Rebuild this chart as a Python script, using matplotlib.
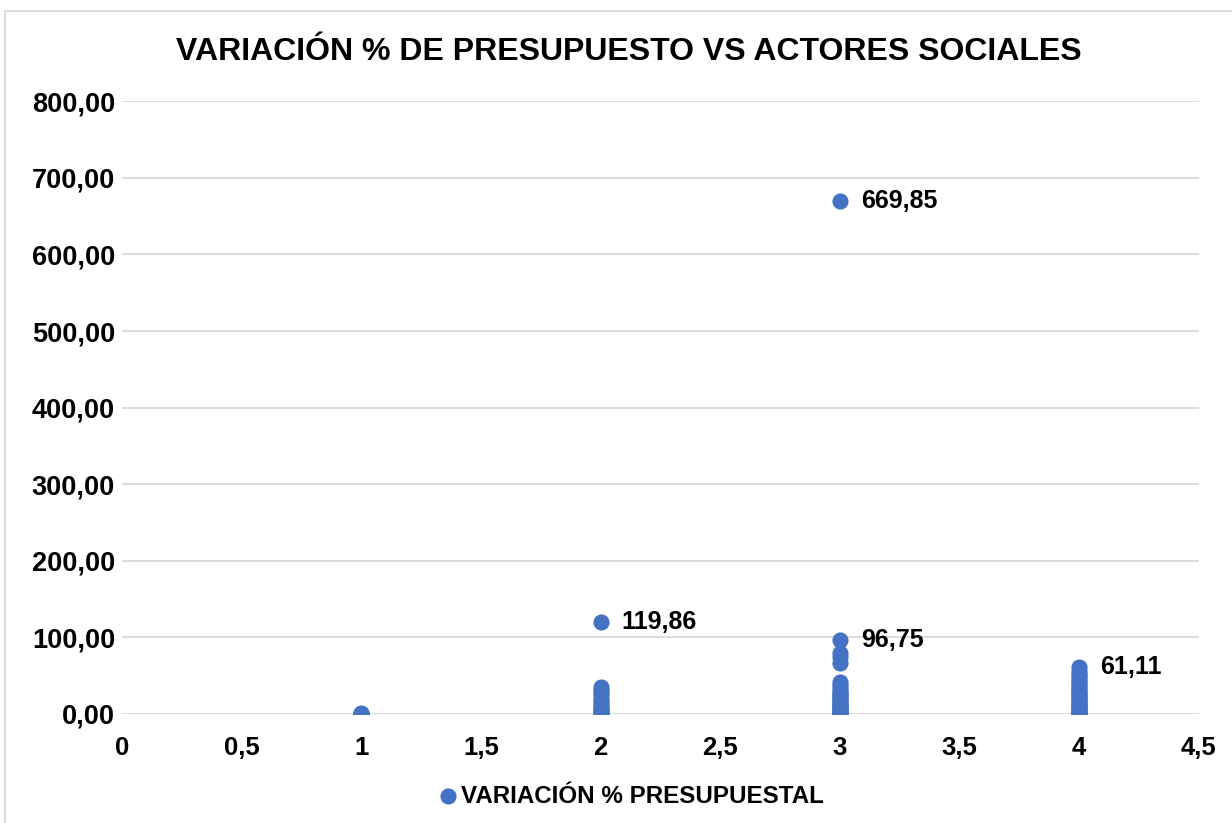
import matplotlib.pyplot as plt
from matplotlib.patches import Rectangle

plt.rcParams['font.family'] = ['Liberation Sans', 'DejaVu Sans']

# actores sociales (x) vs variacion % presupuestal (y)
grupo1 = [0.0, 0.1, 0.3, 0.5, 0.8]
grupo2 = [119.86, 35.2, 31.0, 28.5, 24.1, 20.0, 16.3, 12.7, 9.8, 7.1, 5.0, 3.2, 1.5, 0.4]
grupo3 = [669.85, 96.75, 79.6, 74.0, 66.6, 42.1, 38.0, 33.5, 30.2, 28.0, 25.4, 23.2,
          20.8, 18.9, 16.5, 14.6, 12.4, 10.8, 9.0, 7.5, 6.1, 4.6, 3.3, 2.3, 1.2, 0.6]
grupo4 = [61.11, 56.4, 52.0, 49.1, 46.3, 43.0, 40.2, 37.4, 34.8, 31.9, 29.5, 27.2,
          25.1, 22.8, 20.7, 18.5, 16.4, 14.2, 12.3, 10.4, 8.6, 6.9, 5.2, 3.6, 2.4, 1.3, 0.5]
etiquetados = [(2, 119.86), (3, 669.85), (3, 96.75), (4, 61.11)]

xticks = [0, 0.5, 1, 1.5, 2, 2.5, 3, 3.5, 4, 4.5]
yticks = [0, 100, 200, 300, 400, 500, 600, 700, 800]


def coma(v, dec):
    return f'{v:.{dec}f}'.replace('.', ',')


xs = [1] * len(grupo1) + [2] * len(grupo2) + [3] * len(grupo3) + [4] * len(grupo4)
ys = grupo1 + grupo2 + grupo3 + grupo4

fig = plt.figure(figsize=(12.32, 8.23), dpi=100)
ax = fig.add_axes([0.099, 0.1325, 0.874, 0.7445])

ax.scatter(xs, ys, s=135, color='#4472C4', zorder=3, linewidths=0,
           label='VARIACIÓN % PRESUPUESTAL')

for x, y in etiquetados:
    ax.annotate(coma(y, 2), (x, y), xytext=(15, 0), textcoords='offset points',
                ha='left', va='center', fontsize=18, fontweight='bold')

ax.set_xlim(0, 4.5)
ax.set_ylim(0, 800)
ax.set_xticks(xticks)
ax.set_xticklabels([coma(v, 1) if v != int(v) else str(int(v)) for v in xticks])
ax.set_yticks(yticks)
ax.set_yticklabels([coma(v, 2) for v in yticks])
ax.tick_params(length=0)
ax.tick_params(axis='y', pad=5, labelsize=19.5)
ax.tick_params(axis='x', pad=16, labelsize=18.5)
for lab in ax.get_xticklabels() + ax.get_yticklabels():
    lab.set_fontweight('bold')
ax.grid(axis='y', color='#D9D9D9', linewidth=1.3, zorder=0)
for s in ax.spines.values():
    s.set_visible(False)

fig.text(0.51, 0.937, 'VARIACIÓN % DE PRESUPUESTO VS ACTORES SOCIALES',
         ha='center', va='center', fontsize=23, fontweight='bold')

leg = ax.legend(loc='center', bbox_to_anchor=(0.466, -0.134), frameon=False,
                handletextpad=-0.45, markerscale=1.0,
                prop={'size': 17.4, 'weight': 'bold'})

fig.patches.append(Rectangle((5 / 1232, -0.01), 1.1, 1 - 11 / 823 + 0.01,
                             transform=fig.transFigure, fill=False,
                             edgecolor='#D9D9D9', linewidth=1.3))

fig.savefig('out.png', dpi=100)
